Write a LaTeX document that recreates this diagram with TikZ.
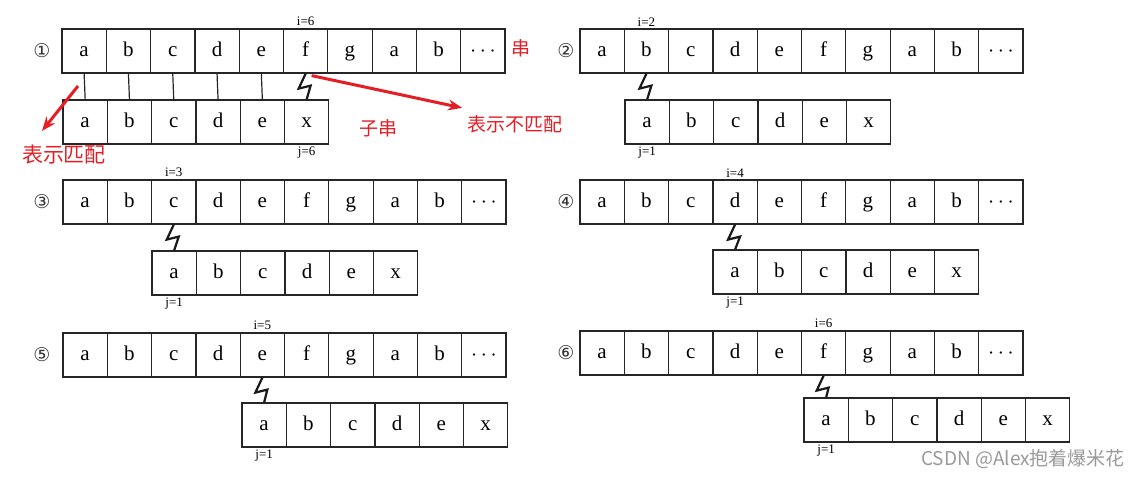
\documentclass[tikz,border=0pt]{standalone}
\usepackage{fontspec}
\setmainfont{Liberation Serif}
\newfontfamily\cjk{Noto Sans CJK SC}
\newfontfamily\circfont{DejaVu Sans}
\usetikzlibrary{arrows.meta}
\definecolor{hintred}{RGB}{228,30,36}
\begin{document}
\begin{tikzpicture}[x=0.5pt,y=-0.5pt,>={Stealth[length=7pt,width=5.5pt]},
    cell/.style={draw=black!85,line width=0.6pt,minimum width=22.15pt,minimum height=22pt,inner sep=0pt,
      text height=7pt,text depth=2pt,font=\fontsize{10.5}{12}\selectfont},
    idx/.style={font=\fontsize{6.5}{7}\selectfont,inner sep=1pt},
    num/.style={font=\circfont\fontsize{9.5}{10}\selectfont,inner sep=0pt,text=black!80},
    zig/.style={line width=1.1pt,black!90},
    note/.style={text=hintred,font=\cjk\fontsize{9.5}{11}\selectfont,inner sep=0pt},
    hint/.style={->,draw=hintred,line width=1.5pt},
    wm/.style={text=black!40,font=\cjk\fontsize{9.5}{11}\selectfont,inner sep=0pt}]
  \useasboundingbox (0,0) rectangle (1142,477);
  % six steps: main string, pattern, mismatch mark
  \foreach \p/\mk/\cx/\tx/\ty/\bx/\by/\si/\tj in {1/①/42/62/29/63/100/6/6,
      2/②/566/580/29/625/100/2/1, 3/③/42/63/180/152/251/3/1,
      4/④/566/580/180/713/250/4/1, 5/⑤/42/63/333/242/403/5/1,
      6/⑥/566/580/331/804/398/6/1}{
    \foreach \ch [count=\k] in {a,b,c,d,e,f,g,a,b,$\cdots$}
      \node[cell] (s\p-\k) at ({\tx+44.3*(\k-0.5)},{\ty+22}) {\ch};
    \foreach \ch [count=\k] in {a,b,c,d,e,x}
      \node[cell] (t\p-\k) at ({\bx+44.3*(\k-0.5)},{\by+22}) {\ch};
    \node[num] (n\p) at ({\cx},{\ty+22}) {\mk};
    \node[idx,above] (il\p) at (s\p-\si.north) {i=\si};
    \node[idx,below] (jl\p) at (t\p-\tj.south) {j=\tj};
    \draw[zig] (s\p-\si.south) -- ++(-7,15) -- ++(12,-3) -- (t\p-\tj.north);
  }
  \foreach \k in {1,...,5}
    \draw[line width=0.6pt,black!85] (s1-\k.south) -- (t1-\k.north);
  % red notes
  \node[note] (str) at (521,48) {串};
  \node[note] (sub) at (378,128) {子串};
  \node[note,font=\cjk\fontsize{10.5}{12}\selectfont] (ok) at (64,155) {表示匹配};
  \node[note] (bad) at (515,124) {表示不匹配};
  \coordinate (ok-tail) at (78,86);
  \draw[hint] (ok-tail) -- ([shift={(-22,-14)}]ok.north);
  \draw[hint] ([shift={(6,2)}]s1-6.south) -- ([shift={(-5,-7)}]bad.north west);
  \node[wm] (csdn) at (1023,459) {CSDN @Alex抱着爆米花};
\end{tikzpicture}
\end{document}
